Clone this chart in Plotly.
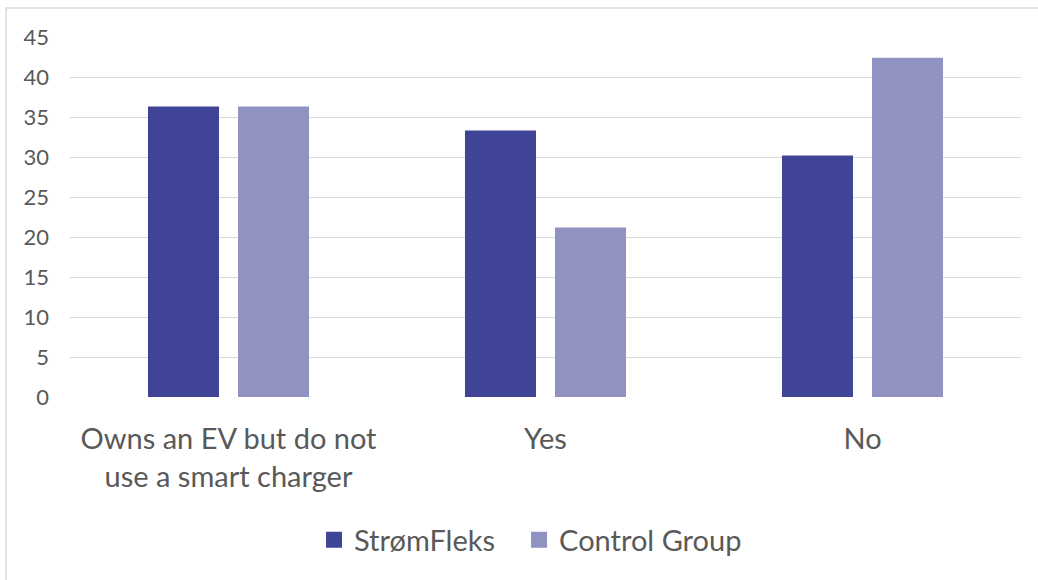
import plotly.graph_objects as go

categories = ["Owns an EV but do not<br>use a smart charger", "Yes", "No"]
stromfleks = [36.3, 33.3, 30.2]
control_group = [36.3, 21.2, 42.4]
series_names = ["StrømFleks", "Control Group"]
y_ticks = [0, 5, 10, 15, 20, 25, 30, 35, 40, 45]

dark = "#404497"
light = "#9092C2"
text_grey = "#595959"
font_family = "Lato, Carlito, Calibri, sans-serif"

fig = go.Figure()
fig.add_trace(go.Bar(x=categories, y=stromfleks, name=series_names[0],
                     marker=dict(color=dark, line=dict(width=0)), showlegend=False))
fig.add_trace(go.Bar(x=categories, y=control_group, name=series_names[1],
                     marker=dict(color=light, line=dict(width=0)), showlegend=False))

# legend entries with larger square swatches, one legend box per series
for name, col, leg in zip(series_names, [dark, light], ["legend", "legend2"]):
    fig.add_trace(go.Scatter(x=[None], y=[None], mode="markers", name=name, legend=leg,
                             marker=dict(symbol="square", size=16, color=col)))

legend_style = dict(orientation="h", xanchor="left", y=-0.397, yanchor="middle",
                    font=dict(size=29, color=text_grey), itemwidth=30,
                    bgcolor="rgba(0,0,0,0)")

fig.update_layout(
    width=1038, height=580,
    margin=dict(l=70, r=17, t=37, b=183),
    paper_bgcolor="white", plot_bgcolor="white",
    barmode="group", bargap=0.432, bargroupgap=0.211,
    font=dict(family=font_family, color=text_grey),
    legend=dict(x=0.2566, **legend_style),
    legend2=dict(x=0.4722, **legend_style),
    shapes=[dict(type="rect", xref="paper", yref="paper",
                 x0=-0.0673, x1=1.2, y0=-1.0, y1=1.0806,
                 line=dict(color="#d9d9d9", width=1.5), layer="below")],
)
fig.update_xaxes(showgrid=False, zeroline=False, showline=False, ticks="",
                 tickfont=dict(size=29, color=text_grey), ticklabelstandoff=22)
fig.update_yaxes(range=[0, 45], tickvals=y_ticks, showgrid=True, gridcolor="#d9d9d9",
                 gridwidth=1.3, zeroline=False, showline=False, ticks="",
                 tickfont=dict(size=22, color=text_grey), ticklabelstandoff=20)

fig.write_html("out.html")
